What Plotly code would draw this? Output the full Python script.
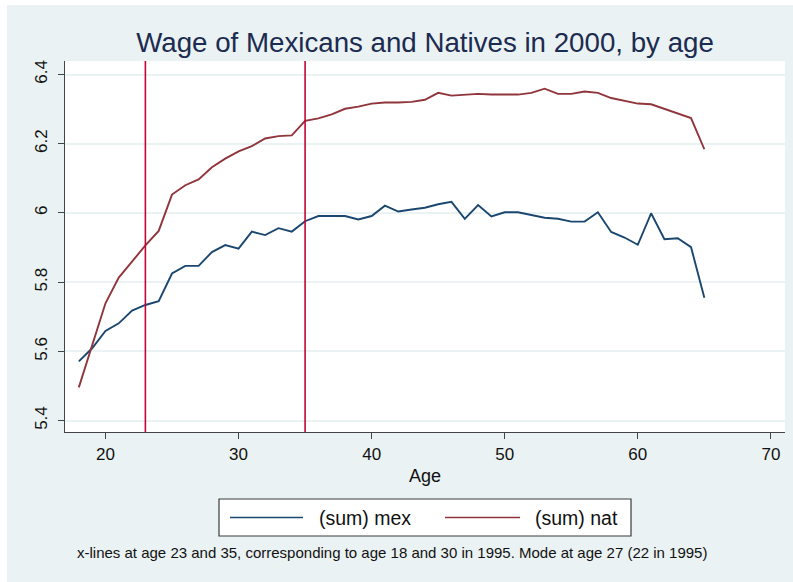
import plotly.graph_objects as go

# Mean log wage by age, year 2000
ages = list(range(18, 66))
mex = [5.571, 5.609, 5.659, 5.681, 5.718, 5.734, 5.745, 5.825, 5.847, 5.847,
       5.887, 5.907, 5.897, 5.946, 5.936, 5.956, 5.946, 5.976, 5.991, 5.991,
       5.991, 5.981, 5.991, 6.021, 6.004, 6.010, 6.015, 6.025, 6.032, 5.983,
       6.023, 5.990, 6.002, 6.002, 5.993, 5.986, 5.983, 5.975, 5.975, 6.002,
       5.945, 5.929, 5.908, 5.999, 5.924, 5.927, 5.901, 5.755]
nat = [5.496, 5.615, 5.739, 5.813, 5.859, 5.906, 5.948, 6.053, 6.080, 6.097,
       6.132, 6.157, 6.178, 6.193, 6.215, 6.222, 6.224, 6.266, 6.273, 6.285,
       6.301, 6.307, 6.316, 6.319, 6.319, 6.321, 6.327, 6.347, 6.339, 6.342,
       6.344, 6.342, 6.342, 6.342, 6.347, 6.359, 6.344, 6.344, 6.351, 6.347,
       6.332, 6.324, 6.316, 6.314, 6.300, 6.287, 6.274, 6.184]
series_names = ["(sum) mex", "(sum) nat"]
xline_ages = [23, 35]
x_ticks = [20, 30, 40, 50, 60, 70]
y_ticks = [5.4, 5.6, 5.8, 6.0, 6.2, 6.4]
y_tick_labels = ["5.4", "5.6", "5.8", "6", "6.2", "6.4"]

title_text = "Wage of Mexicans and Natives in 2000, by age"
note_text = ("x-lines at age 23 and 35, corresponding to age 18 and 30 in 1995. "
             "Mode at age 27 (22 in 1995)")

W, H = 793, 582
ML, MR, MT, MB = 65, 8, 61, 150
PW, PH = W - ML - MR, H - MT - MB

BG = "#EAF2F3"
NAVY = "#1A476F"
MAROON = "#90353B"
XLINE = "#C10534"
FONT = "Liberation Sans, Arial, sans-serif"


def px(x):
    return (x - ML) / PW


def py(y):
    return (H - MB - y) / PH


fig = go.Figure()
colors = [NAVY, MAROON]
for name, vals, col in zip(series_names, [mex, nat], colors):
    fig.add_trace(go.Scatter(x=ages, y=vals, mode="lines", name=name,
                             line=dict(color=col, width=1.9), showlegend=False))

shapes = []
# white margin strips around the graph region
shapes.append(dict(type="rect", xref="paper", yref="paper", x0=px(0), x1=px(W),
                   y0=py(5), y1=py(0), fillcolor="white", line_width=0, layer="below"))
shapes.append(dict(type="rect", xref="paper", yref="paper", x0=px(0), x1=px(7),
                   y0=py(H), y1=py(0), fillcolor="white", line_width=0, layer="below"))
# reference lines
for a in xline_ages:
    shapes.append(dict(type="line", xref="x", yref="paper", x0=a, x1=a, y0=0, y1=1,
                       line=dict(color=XLINE, width=1.6)))
# legend box
lx0, lx1, ly0, ly1 = 219, 631, 499, 536
shapes.append(dict(type="rect", xref="paper", yref="paper", x0=px(lx0), x1=px(lx1),
                   y0=py(ly1), y1=py(ly0), fillcolor="white",
                   line=dict(color="#3a3a3a", width=1.2)))
ly = (ly0 + ly1) / 2
seg = [(230, 303), (445, 520)]
text_x = [317, 533]
annotations = []
for (s0, s1), tx, col, name in zip(seg, text_x, colors, series_names):
    shapes.append(dict(type="line", xref="paper", yref="paper", x0=px(s0), x1=px(s1),
                       y0=py(ly), y1=py(ly), line=dict(color=col, width=1.6)))
    annotations.append(dict(xref="paper", yref="paper", x=px(tx), y=py(ly),
                            xanchor="left", yanchor="middle", text=name, showarrow=False,
                            font=dict(family=FONT, size=19.5, color="#111")))
annotations.append(dict(xref="paper", yref="paper", x=px(392), y=py(552),
                        xanchor="center", yanchor="middle", text=note_text, showarrow=False,
                        font=dict(family=FONT, size=15, color="#111")))

fig.update_layout(
    width=W, height=H,
    margin=dict(l=ML, r=MR, t=MT, b=MB, autoexpand=False),
    paper_bgcolor=BG, plot_bgcolor="white",
    title=dict(text=title_text, x=px(425), xanchor="center", xref="paper",
               y=1 - 42 / H, yref="container", yanchor="middle",
               font=dict(family=FONT, size=27.7, color="#1c2b50")),
    shapes=shapes, annotations=annotations, showlegend=False,
    font=dict(family=FONT, color="#111"),
)
fig.update_xaxes(range=[16.96, 71.06], tickvals=x_ticks, ticks="outside", ticklen=6,
                 tickcolor="#444", tickwidth=1, showline=True, linecolor="#444",
                 linewidth=1.2, showgrid=False, zeroline=False,
                 tickfont=dict(family=FONT, size=17, color="#111"),
                 title=dict(text="Age", standoff=6, font=dict(family=FONT, size=18, color="#111")))
fig.update_yaxes(range=[5.367, 6.439], tickvals=y_ticks, ticktext=y_tick_labels,
                 tickangle=-90, ticks="outside", ticklen=6, tickcolor="#444", tickwidth=1,
                 showline=True, linecolor="#444", linewidth=1.2, showgrid=True,
                 gridcolor=BG, gridwidth=1.5, zeroline=False, ticklabelstandoff=4,
                 tickfont=dict(family=FONT, size=17, color="#111"))

fig.write_html("out.html")
